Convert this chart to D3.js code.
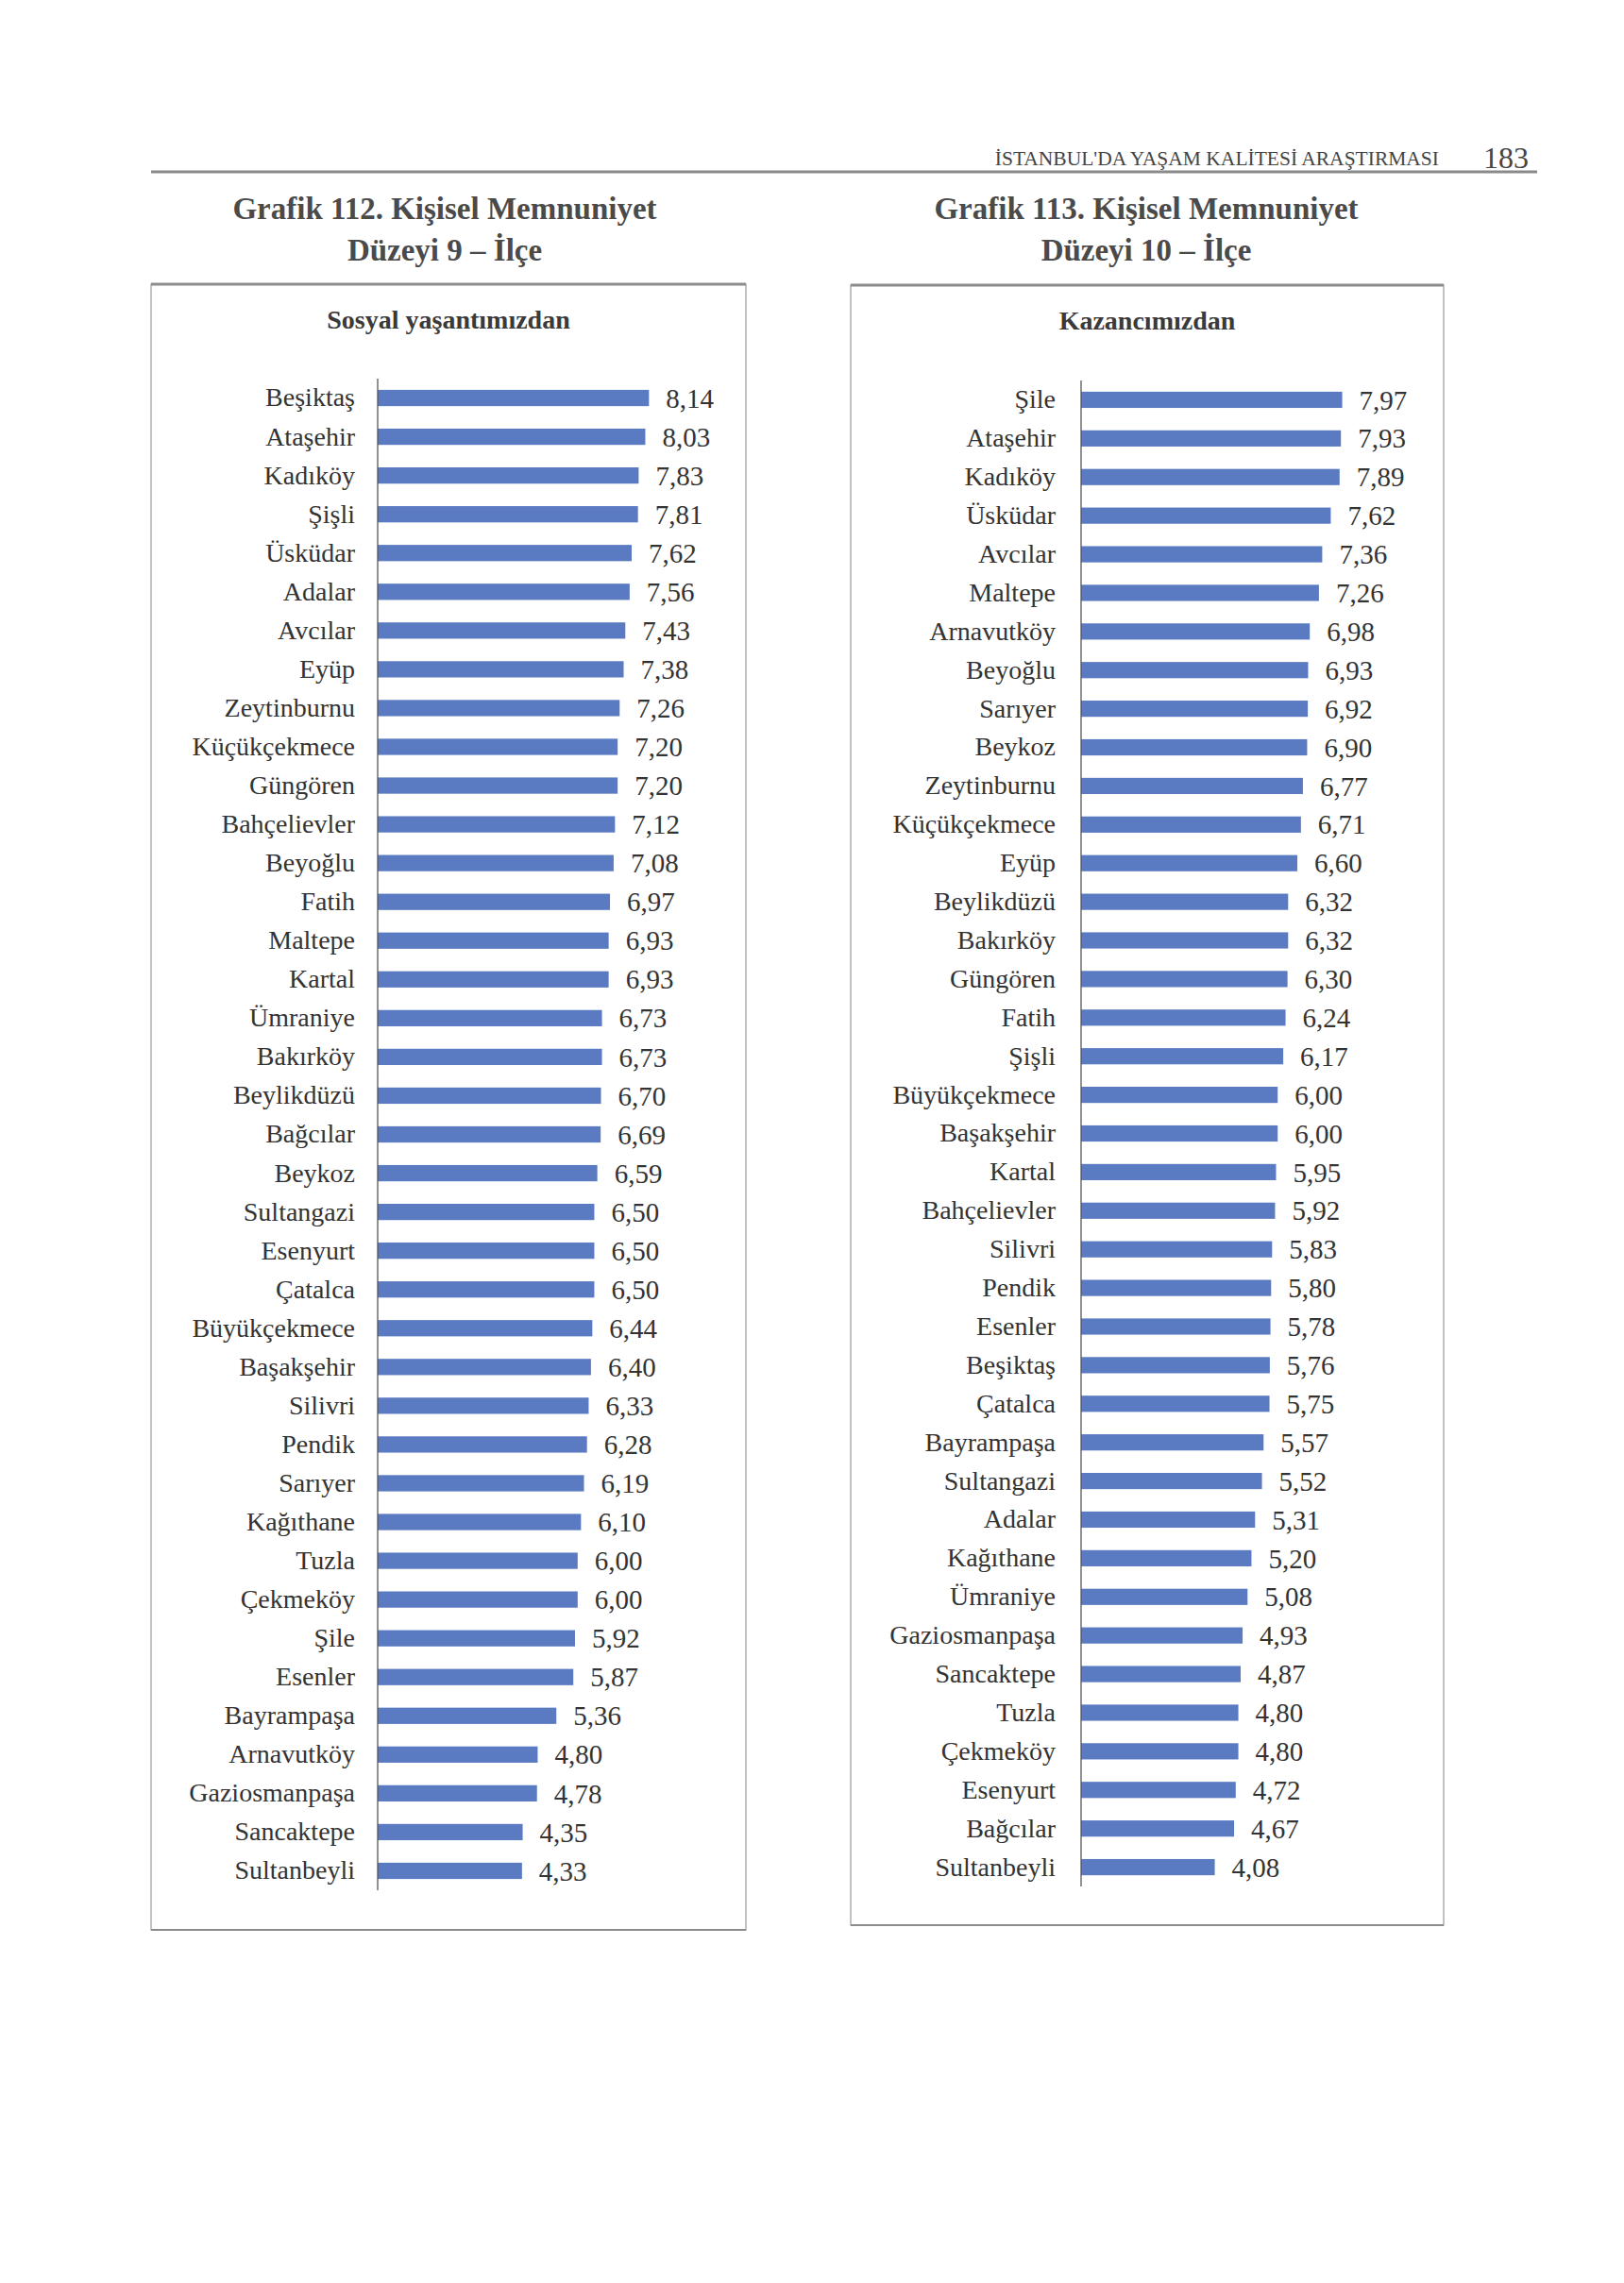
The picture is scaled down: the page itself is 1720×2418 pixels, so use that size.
<!DOCTYPE html>
<html>
<head>
<meta charset="utf-8">
<script src="https://cdn.jsdelivr.net/npm/d3@7"></script>
<style>
  html, body { margin: 0; padding: 0; background: #fff; }
  svg text { font-family: "Liberation Serif", "Times New Roman", serif; }
</style>
</head>
<body>
<svg id="page" width="1720" height="2418"></svg>
<script>
// ---- Data ----
const leftCategories = ["Beşiktaş","Ataşehir","Kadıköy","Şişli","Üsküdar","Adalar","Avcılar","Eyüp","Zeytinburnu","Küçükçekmece","Güngören","Bahçelievler","Beyoğlu","Fatih","Maltepe","Kartal","Ümraniye","Bakırköy","Beylikdüzü","Bağcılar","Beykoz","Sultangazi","Esenyurt","Çatalca","Büyükçekmece","Başakşehir","Silivri","Pendik","Sarıyer","Kağıthane","Tuzla","Çekmeköy","Şile","Esenler","Bayrampaşa","Arnavutköy","Gaziosmanpaşa","Sancaktepe","Sultanbeyli"];
const leftValues = [8.14,8.03,7.83,7.81,7.62,7.56,7.43,7.38,7.26,7.20,7.20,7.12,7.08,6.97,6.93,6.93,6.73,6.73,6.70,6.69,6.59,6.50,6.50,6.50,6.44,6.40,6.33,6.28,6.19,6.10,6.00,6.00,5.92,5.87,5.36,4.80,4.78,4.35,4.33];

const rightCategories = ["Şile","Ataşehir","Kadıköy","Üsküdar","Avcılar","Maltepe","Arnavutköy","Beyoğlu","Sarıyer","Beykoz","Zeytinburnu","Küçükçekmece","Eyüp","Beylikdüzü","Bakırköy","Güngören","Fatih","Şişli","Büyükçekmece","Başakşehir","Kartal","Bahçelievler","Silivri","Pendik","Esenler","Beşiktaş","Çatalca","Bayrampaşa","Sultangazi","Adalar","Kağıthane","Ümraniye","Gaziosmanpaşa","Sancaktepe","Tuzla","Çekmeköy","Esenyurt","Bağcılar","Sultanbeyli"];
const rightValues = [7.97,7.93,7.89,7.62,7.36,7.26,6.98,6.93,6.92,6.90,6.77,6.71,6.60,6.32,6.32,6.30,6.24,6.17,6.00,6.00,5.95,5.92,5.83,5.80,5.78,5.76,5.75,5.57,5.52,5.31,5.20,5.08,4.93,4.87,4.80,4.80,4.72,4.67,4.08];

const headerText = "İSTANBUL'DA YAŞAM KALİTESİ ARAŞTIRMASI";
const pageNumber = "183";
const leftTitle = ["Grafik 112. Kişisel Memnuniyet", "Düzeyi 9 – İlçe"];
const rightTitle = ["Grafik 113. Kişisel Memnuniyet", "Düzeyi 10 – İlçe"];
const leftSubtitle = "Sosyal yaşantımızdan";
const rightSubtitle = "Kazancımızdan";

// ---- Drawing ----
const svg = d3.select("#page");
const BAR = "#5a7bc2";
const TXT = "#333333";
const fmt = v => d3.format(".2f")(v).replace(".", ",");

// Header
svg.append("line").attr("x1", 160).attr("x2", 1628).attr("y1", 182).attr("y2", 182)
  .attr("stroke", "#8a8a8a").attr("stroke-width", 3);
svg.append("text").attr("x", 1524).attr("y", 175).attr("text-anchor", "end")
  .attr("font-size", 21.5).attr("fill", "#444").text(headerText);
svg.append("text").attr("x", 1619).attr("y", 178).attr("text-anchor", "end")
  .attr("font-size", 32).attr("fill", "#444").text(pageNumber);

function drawPanel(cfg) {
  const g = svg.append("g");
  // titles
  cfg.title.forEach((t, i) => {
    g.append("text").attr("x", cfg.titleX).attr("y", 232 + i * 44)
      .attr("text-anchor", "middle").attr("font-size", 33).attr("font-weight", "bold")
      .attr("fill", "#4a4a4a").text(t);
  });
  // box
  g.append("rect").attr("x", cfg.box[0]).attr("y", cfg.box[1])
    .attr("width", cfg.box[2] - cfg.box[0]).attr("height", cfg.box[3] - cfg.box[1])
    .attr("fill", "none").attr("stroke", "#9a9a9a").attr("stroke-width", 1.2);
  g.append("line").attr("x1", cfg.box[0]).attr("x2", cfg.box[2])
    .attr("y1", cfg.box[1]).attr("y2", cfg.box[1]).attr("stroke", "#8c8c8c").attr("stroke-width", 3);
  g.append("line").attr("x1", cfg.box[0]).attr("x2", cfg.box[2])
    .attr("y1", cfg.box[3]).attr("y2", cfg.box[3]).attr("stroke", "#8c8c8c").attr("stroke-width", 2);
  // subtitle
  g.append("text").attr("x", (cfg.box[0] + cfg.box[2]) / 2).attr("y", cfg.box[1] + 47)
    .attr("text-anchor", "middle").attr("font-size", 28).attr("font-weight", "bold")
    .attr("fill", "#3a3a3a").text(cfg.subtitle);

  const y = d3.scaleBand().domain(cfg.categories).range(cfg.yRange).paddingInner(0.58).paddingOuter(0.29);
  const x = d3.scaleLinear().domain([0, 10]).range([cfg.axisX, cfg.axisX + cfg.unit * 10]);
  const data = cfg.categories.map((c, i) => ({ c, v: cfg.values[i] }));

  g.selectAll("rect.bar").data(data).enter().append("rect").attr("class", "bar")
    .attr("x", x(0)).attr("y", d => y(d.c))
    .attr("width", d => x(d.v) - x(0)).attr("height", y.bandwidth())
    .attr("fill", BAR);

  const axis = d3.axisLeft(y).tickSize(0).tickPadding(cfg.labelPad);
  const ax = g.append("g").attr("transform", `translate(${x(0)},0)`).call(axis);
  ax.select(".domain").attr("stroke", "#555").attr("stroke-width", 1.3)
    .attr("d", `M0,${cfg.yRange[0]}V${cfg.yRange[1]}`);
  ax.selectAll("text").attr("font-size", 28).attr("fill", TXT)
    .attr("font-family", '"Liberation Serif", "Times New Roman", serif');

  g.selectAll("text.val").data(data).enter().append("text").attr("class", "val")
    .attr("x", d => x(d.v) + 18).attr("y", d => y(d.c) + y.bandwidth() / 2)
    .attr("dy", "0.35em").attr("font-size", 29).attr("fill", TXT).text(d => fmt(d.v));
}

drawPanel({
  title: leftTitle, titleX: 471, subtitle: leftSubtitle,
  box: [160, 301, 790, 2044],
  categories: leftCategories, values: leftValues,
  axisX: 400, unit: 35.3, yRange: [401, 2002], labelPad: 24
});
drawPanel({
  title: rightTitle, titleX: 1214, subtitle: rightSubtitle,
  box: [901, 302, 1529, 2039],
  categories: rightCategories, values: rightValues,
  axisX: 1145, unit: 34.7, yRange: [403, 1998], labelPad: 27
});
</script>
</body>
</html>
